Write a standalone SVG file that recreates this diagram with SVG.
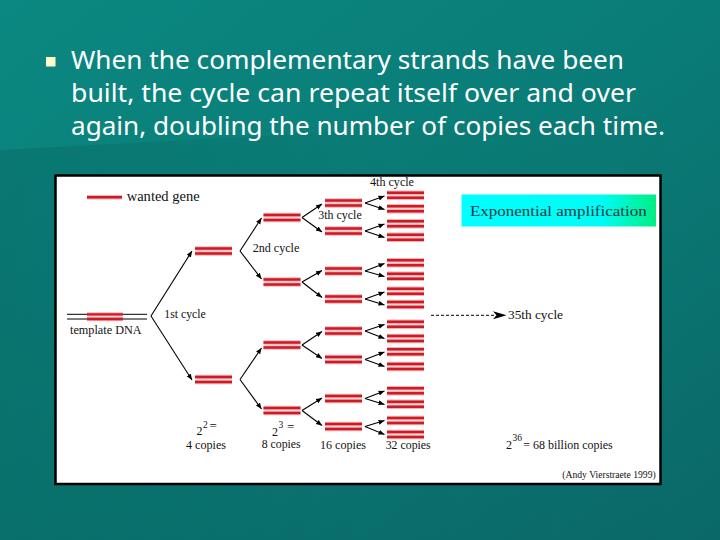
<svg xmlns="http://www.w3.org/2000/svg" width="720" height="540" viewBox="0 0 720 540">
<defs>
<linearGradient id="bg" x1="0" y1="0" x2="1" y2="1">
<stop offset="0" stop-color="#0b8881"/>
<stop offset="0.5" stop-color="#0a7c77"/>
<stop offset="1" stop-color="#0a6868"/>
</linearGradient>
<linearGradient id="sw" x1="0" y1="0" x2="1" y2="0">
<stop offset="0" stop-color="#000" stop-opacity="0.10"/>
<stop offset="0.5" stop-color="#000" stop-opacity="0.03"/>
<stop offset="1" stop-color="#000" stop-opacity="0"/>
</linearGradient>
<linearGradient id="tb" x1="0" y1="0" x2="1" y2="0">
<stop offset="0" stop-color="#00ffff"/>
<stop offset="0.72" stop-color="#00fcf4"/>
<stop offset="1" stop-color="#00ee84"/>
</linearGradient>
<marker id="ah" markerUnits="userSpaceOnUse" markerWidth="7" markerHeight="6" refX="6" refY="2.5" orient="auto">
<path d="M0,0 L6,2.5 L0,5 z" fill="#000"/>
</marker>
<g id="pr">
<line x1="0" y1="-2.5" x2="37" y2="-2.5" class="halo"/>
<line x1="0" y1="2.5" x2="37" y2="2.5" class="halo"/>
<line x1="0" y1="-2.5" x2="37" y2="-2.5" class="red"/>
<line x1="0" y1="2.5" x2="37" y2="2.5" class="red"/>
</g>
<style>
.halo{stroke:#f6b0b0;stroke-width:4.6}
.red{stroke:#cc1a26;stroke-width:2.6}
.hd{font-family:"Noto Sans","DejaVu Sans",sans-serif;font-size:25px;fill:#ffffff}
.t{font-family:"Liberation Serif","Times New Roman",serif;font-size:12px;fill:#111}
.sup{font-family:"Liberation Serif","Times New Roman",serif;font-size:9.5px;fill:#111}
.ar{stroke:#000;stroke-width:1.1;fill:none;marker-end:url(#ah)}
</style>
</defs>
<rect x="0" y="0" width="720" height="540" fill="url(#bg)"/>
<polygon points="0,150 260,136 720,112 720,540 0,540" fill="url(#sw)"/>

<g id="header">
<rect x="46" y="57" width="9.5" height="9.5" fill="#ffffcc"/>
<text class="hd" x="71" y="68.5" textLength="553" lengthAdjust="spacingAndGlyphs">When the complementary strands have been</text>
<text class="hd" x="71" y="101.5" textLength="565" lengthAdjust="spacingAndGlyphs">built, the cycle can repeat itself over and over</text>
<text class="hd" x="71" y="134.5" textLength="594" lengthAdjust="spacingAndGlyphs">again, doubling the number of copies each time.</text>
</g>

<g id="panel">
<rect x="55.5" y="175.5" width="605" height="308.5" fill="#ffffff" stroke="#000" stroke-width="2.5"/>
</g>

<g id="legend">
<line x1="87" y1="197.3" x2="122" y2="197.3" class="halo"/>
<line x1="87" y1="197.3" x2="122" y2="197.3" class="red"/>
<text class="t" x="126.7" y="201" style="font-size:14px" textLength="73" lengthAdjust="spacingAndGlyphs">wanted gene</text>
</g>

<g id="template">
<line x1="67" y1="314.3" x2="147" y2="314.3" stroke="#000" stroke-width="1"/>
<line x1="67" y1="319" x2="147" y2="319" stroke="#000" stroke-width="1"/>
<use href="#pr" transform="translate(87,316.7) scale(0.97,0.94)"/>
<text class="t" x="70" y="334" style="font-size:12.5px" textLength="71.7" lengthAdjust="spacingAndGlyphs">template DNA</text>
</g>

<g id="level1">
<use href="#pr" x="195" y="251"/>
<use href="#pr" x="195" y="379.5"/>
</g>
<g id="level2">
<use href="#pr" x="263.5" y="217.5"/>
<use href="#pr" x="263.5" y="282"/>
<use href="#pr" x="263.5" y="345"/>
<use href="#pr" x="263.5" y="410.5"/>
</g>
<g id="level3">
<use href="#pr" x="325" y="203"/>
<use href="#pr" x="325" y="231"/>
<use href="#pr" x="325" y="271"/>
<use href="#pr" x="325" y="299"/>
<use href="#pr" x="325" y="331"/>
<use href="#pr" x="325" y="359.5"/>
<use href="#pr" x="325" y="398.5"/>
<use href="#pr" x="325" y="426.5"/>
</g>
<g id="level4">
<use href="#pr" x="387" y="195.2"/>
<use href="#pr" x="387" y="208.8"/>
<use href="#pr" x="387" y="223.7"/>
<use href="#pr" x="387" y="237.2"/>
<use href="#pr" x="387" y="262.8"/>
<use href="#pr" x="387" y="276.2"/>
<use href="#pr" x="387" y="291.2"/>
<use href="#pr" x="387" y="304.5"/>
<use href="#pr" x="387" y="324.2"/>
<use href="#pr" x="387" y="338.5"/>
<use href="#pr" x="387" y="351.8"/>
<use href="#pr" x="387" y="366.5"/>
<use href="#pr" x="387" y="390.8"/>
<use href="#pr" x="387" y="404.2"/>
<use href="#pr" x="387" y="420.5"/>
<use href="#pr" x="387" y="434.5"/>
</g>

<g id="connectors">
<line class="ar" x1="151" y1="316" x2="192" y2="251"/>
<line class="ar" x1="151" y1="316" x2="192" y2="380"/>
<line class="ar" x1="240" y1="251" x2="261.5" y2="218"/>
<line class="ar" x1="240" y1="251" x2="261.5" y2="279"/>
<line class="ar" x1="240" y1="379.5" x2="261.5" y2="348"/>
<line class="ar" x1="240" y1="379.5" x2="261.5" y2="409"/>
<line class="ar" x1="302" y1="217.5" x2="322" y2="204"/>
<line class="ar" x1="302" y1="217.5" x2="322" y2="232"/>
<line class="ar" x1="302" y1="282" x2="322" y2="270.5"/>
<line class="ar" x1="302" y1="282" x2="322" y2="297.5"/>
<line class="ar" x1="302" y1="345" x2="322" y2="331.5"/>
<line class="ar" x1="302" y1="345" x2="322" y2="358.5"/>
<line class="ar" x1="302" y1="410.5" x2="322" y2="398"/>
<line class="ar" x1="302" y1="410.5" x2="322" y2="425.5"/>
<line class="ar" x1="365" y1="203" x2="384.5" y2="196"/>
<line class="ar" x1="365" y1="203" x2="384.5" y2="209.5"/>
<line class="ar" x1="365" y1="231" x2="384.5" y2="224"/>
<line class="ar" x1="365" y1="231" x2="384.5" y2="237.5"/>
<line class="ar" x1="365" y1="271" x2="384.5" y2="263.5"/>
<line class="ar" x1="365" y1="271" x2="384.5" y2="276.5"/>
<line class="ar" x1="365" y1="299" x2="384.5" y2="292"/>
<line class="ar" x1="365" y1="299" x2="384.5" y2="305"/>
<line class="ar" x1="365" y1="331" x2="384.5" y2="324.5"/>
<line class="ar" x1="365" y1="331" x2="384.5" y2="338.5"/>
<line class="ar" x1="365" y1="359.5" x2="384.5" y2="352"/>
<line class="ar" x1="365" y1="359.5" x2="384.5" y2="366.5"/>
<line class="ar" x1="365" y1="398.5" x2="384.5" y2="391"/>
<line class="ar" x1="365" y1="398.5" x2="384.5" y2="404.5"/>
<line class="ar" x1="365" y1="426.5" x2="384.5" y2="420.5"/>
<line class="ar" x1="365" y1="426.5" x2="384.5" y2="434.5"/>
<line x1="431" y1="315.3" x2="495" y2="315.3" stroke="#000" stroke-width="1" stroke-dasharray="3,2"/>
<polygon points="493,311.3 506.5,315.3 493,319.3 496.5,315.3" fill="#000"/>
</g>

<g id="labels">
<text class="t" x="164.3" y="317.7" textLength="41.4" lengthAdjust="spacingAndGlyphs">1st cycle</text>
<text class="t" x="252.7" y="252" textLength="46.6" lengthAdjust="spacingAndGlyphs">2nd cycle</text>
<text class="t" x="318.3" y="218.7" textLength="43.4" lengthAdjust="spacingAndGlyphs">3th cycle</text>
<text class="t" x="370" y="186" textLength="44" lengthAdjust="spacingAndGlyphs">4th cycle</text>
<text class="t" x="508" y="319" textLength="55" lengthAdjust="spacingAndGlyphs">35th cycle</text>
</g>

<g id="title-box">
<rect x="461.5" y="194.5" width="194.5" height="32" fill="url(#tb)"/>
<text x="470" y="216" style="font-family:'Liberation Serif','Times New Roman',serif;font-size:15.5px;fill:#163a44" textLength="176.7" lengthAdjust="spacingAndGlyphs">Exponential amplification</text>
</g>

<g id="counts">
<text class="t" x="196.5" y="434.5">2</text>
<text class="sup" x="203" y="428">2</text>
<text class="t" x="209.5" y="429.5" style="font-size:13px">=</text>
<text class="t" x="186" y="449.3" textLength="40" lengthAdjust="spacingAndGlyphs">4 copies</text>
<text class="t" x="272" y="435.5">2</text>
<text class="sup" x="278.6" y="428.3">3</text>
<text class="t" x="287" y="431" style="font-size:13px">=</text>
<text class="t" x="261.7" y="448.3" textLength="39" lengthAdjust="spacingAndGlyphs">8 copies</text>
<text class="t" x="320" y="449.3" textLength="46" lengthAdjust="spacingAndGlyphs">16 copies</text>
<text class="t" x="385.7" y="449" textLength="45" lengthAdjust="spacingAndGlyphs">32 copies</text>
<text class="t" x="506" y="449.3">2</text>
<text class="sup" x="512.5" y="440.7">36</text>
<text class="t" x="523.3" y="449.3" textLength="89.4" lengthAdjust="spacingAndGlyphs">= 68 billion copies</text>
<text class="t" x="562.3" y="478.3" style="font-size:10.5px" textLength="93.4" lengthAdjust="spacingAndGlyphs">(Andy Vierstraete 1999)</text>
</g>
</svg>
